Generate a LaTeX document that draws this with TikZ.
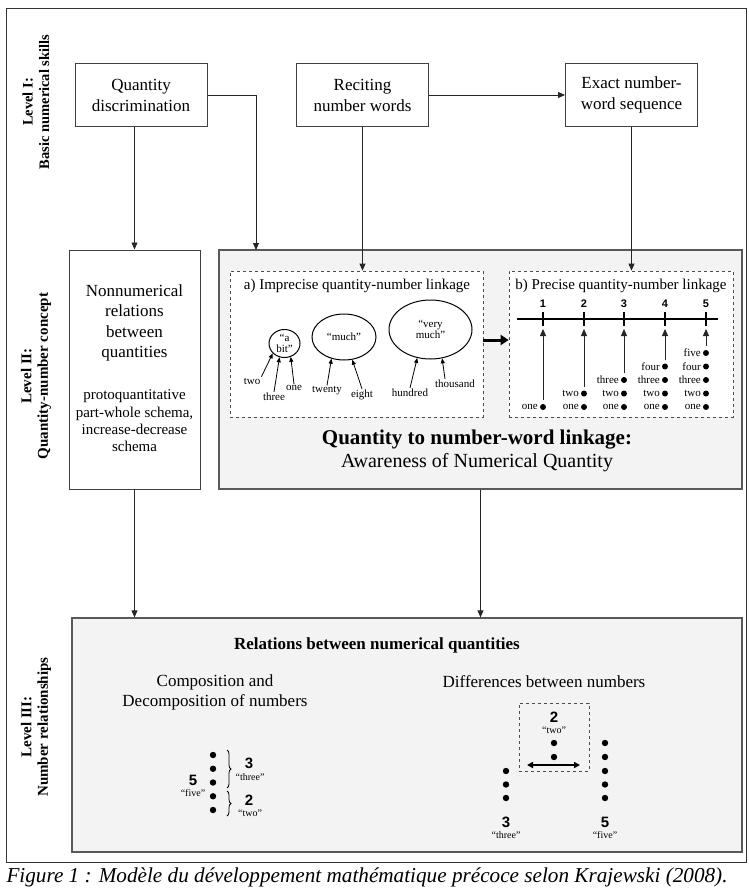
\documentclass[tikz,border=0pt]{standalone}
\usepackage{fontspec}
\setmainfont{Liberation Serif}
\newfontfamily\digitfont{Liberation Sans}
\usepackage{tikz}
\usetikzlibrary{arrows.meta,shapes.geometric,decorations.pathreplacing}
\definecolor{panelgray}{RGB}{243,243,243}

\tikzset{
    skillbox/.style={draw=black!75, line width=1pt, fill=white, align=center,
        minimum width=132pt, minimum height=63pt, font=\fontsize{17}{21}\selectfont},
    panel/.style={draw=black!65, line width=1.2pt, fill=panelgray},
    dashbox/.style={draw=black!70, dashed, line width=0.8pt, fill=white},
    levellabel/.style={rotate=90, align=center, font=\bfseries\fontsize{15}{16.5}\selectfont},
    conn/.style={->, black!85, line width=0.8pt},
    wordarr/.style={-{Stealth[length=5pt,width=4pt,inset=0pt]}, line width=0.8pt},
    blob/.style={ellipse, draw, line width=1pt, inner sep=0pt},
    tinylabel/.style={font=\fontsize{11}{11}\selectfont, inner sep=1pt},
    quoteword/.style={font=\fontsize{10}{10}\selectfont, inner sep=0pt},
    smallnum/.style={font=\digitfont\bfseries\fontsize{11}{11}\selectfont, inner sep=0pt},
    bignum/.style={font=\digitfont\bfseries\fontsize{15}{15}\selectfont, inner sep=0pt}
}

\begin{document}
\begin{tikzpicture}[
    >={Stealth[length=7pt,width=6pt,inset=0pt]},
    x=1pt, y=-1pt
]
\useasboundingbox (0,0) rectangle (748,888);

% Outer frame
\draw[black!80, line width=0.8pt] (6,8) rectangle (746,862);

% Level labels
\node[levellabel, font=\bfseries\fontsize{14.5}{16.5}\selectfont] (lvone) at (36,102)
    {Level I:\\Basic numerical skills};
\node[levellabel] (lvtwo) at (36,376) {Level II:\\Quantity-number concept};
\node[levellabel] (lvthree) at (36,727) {Level III:\\Number relationships};

% Level I
\node[skillbox] (qd) at (141,95) {Quantity\\discrimination};
\node[skillbox] (rnw) at (362.5,95) {Reciting\\number words};
\node[skillbox] (ens) at (631.5,95) {Exact number-\\word sequence};

% Level II
\node[draw=black!75, line width=1pt, fill=white,
    minimum width=131pt, minimum height=239pt] (nn) at (134.5,369.5) {};
\node[align=center, font=\fontsize{17}{20.3}\selectfont] (nntitle) at (134.5,323)
    {Nonnumerical\\relations\\between\\quantities};
\node[align=center, font=\fontsize{15}{17.3}\selectfont] (nnsub) at (134.5,421)
    {protoquantitative\\part-whole schema,\\increase-decrease\\schema};

\node[panel, minimum width=523pt, minimum height=239pt] (qn) at (480.5,369.5) {};
\node[dashbox, minimum width=253pt, minimum height=146pt] (boxa) at (356.5,344) {};
\node[dashbox, minimum width=224pt, minimum height=146pt] (boxb) at (621,344) {};
\node[font=\fontsize{15}{16}\selectfont] (atitle) at (357,286)
    {a) Imprecise quantity-number linkage};
\node[font=\fontsize{15}{16}\selectfont] (btitle) at (621,286)
    {b) Precise quantity-number linkage};

% a) ellipses
\node[blob, minimum width=31pt, minimum height=28pt] (bit) at (284.5,343.5) {};
\node[blob, minimum width=64pt, minimum height=46pt] (much) at (344,337) {};
\node[blob, minimum width=83pt, minimum height=59pt] (vmuch) at (430.5,329.5) {};
\node[tinylabel, align=center] (bitt) at (bit) {“a\\bit”};
\node[tinylabel] (mucht) at (much) {“much”};
\node[tinylabel, align=center] (vmucht) at (vmuch) {“very\\much”};

\node[tinylabel] (wtwo) at (252,381) {two};
\node[tinylabel] (wthree) at (274,397) {three};
\node[tinylabel] (wone) at (294,388) {one};
\node[tinylabel] (wtwenty) at (327,391) {twenty};
\node[tinylabel] (weight) at (362,395) {eight};
\node[tinylabel] (whund) at (410,393) {hundred};
\node[tinylabel] (wthou) at (455,384) {thousand};

\draw[wordarr] (wtwo.north east) -- (bit.220);
\draw[wordarr] (wthree.north) -- (bit.250);
\draw[wordarr] (wone.north) -- (bit.295);
\draw[wordarr] (wtwenty.north) -- (much.240);
\draw[wordarr] (weight.north) -- (much.290);
\draw[wordarr] (whund.north) -- (vmuch.245);
\draw[wordarr] ([xshift=-10pt]wthou.north) -- (vmuch.292);

% b) number line
\draw[line width=1.2pt] (517,319) -- (718,319);
\foreach \xx [count=\k] in {543,584,624,665,706} {
    \draw[line width=1.2pt] (\xx,312) -- (\xx,326);
    \node[smallnum] (num\k) at (\xx,304) {\k};
    \foreach \w [count=\j] in {one,two,three,four,five} {
        \ifnum\j>\k\relax\else
            \fill (\xx,{407-13.5*(\j-1)}) circle (3pt);
            \node[tinylabel, anchor=east] (w\k\j) at ({\xx-4},{407-13.5*(\j-1)}) {\w};
        \fi
    }
    \coordinate (top\k) at (\xx,{400-13.5*(\k-1)});
    \coordinate (tick\k) at (\xx,329);
    \draw[conn] (top\k) -- (tick\k);
}

\draw[line width=3pt, -{Stealth[length=8pt,width=10pt,inset=0pt]}]
    ([yshift=4pt]boxa.east) -- ([yshift=4pt]boxb.west);

\node[font=\bfseries\fontsize{21}{24}\selectfont] (qntitle) at (477,440)
    {Quantity to number-word linkage:};
\node[font=\fontsize{20}{22}\selectfont] (qnsub) at (477,463)
    {Awareness of Numerical Quantity};

% Level III
\node[panel, minimum width=670pt, minimum height=234pt] (rel) at (407,735) {};
\node[font=\bfseries\fontsize{17}{20}\selectfont] (reltitle) at (377,645)
    {Relations between numerical quantities};
\node[align=center, font=\fontsize{17}{20}\selectfont] (comp) at (215,692)
    {Composition and\\Decomposition of numbers};
\node[font=\fontsize{17}{20}\selectfont] (diff) at (544,682)
    {Differences between numbers};

% composition of five
\foreach \yy in {755,768.75,782.5,796.25,810} {
    \fill (213,\yy) circle (3.2pt);
}
\draw[line width=0.8pt, decorate, decoration={brace, amplitude=4pt}] (227,750) -- (227,788);
\draw[line width=0.8pt, decorate, decoration={brace, amplitude=4pt}] (227,791) -- (227,816);
\node[bignum] (cthree) at (249,763) {3};
\node[quoteword] (cthreew) at (250,777) {“three”};
\node[bignum] (ctwo) at (249,800) {2};
\node[quoteword] (ctwow) at (250,813) {“two”};
\node[bignum] (cfive) at (193,780) {5};
\node[quoteword] (cfivew) at (193,793) {“five”};

% differences
\node[dashbox, fill=none, minimum width=70pt, minimum height=68pt] (twobox) at (554,737) {};
\node[bignum] (dtwo) at (554,717) {2};
\node[quoteword] (dtwow) at (554,730) {“two”};
\fill (554,743) circle (3.2pt);
\fill (554,757) circle (3.2pt);
\coordinate (dl) at (527,765);
\coordinate (dr) at (580,765);
\draw[line width=2pt, {Stealth[length=6pt,width=6pt,inset=0pt]}-{Stealth[length=6pt,width=6pt,inset=0pt]}] (dl) -- (dr);
\foreach \yy in {771,784.5,798} {
    \fill (506,\yy) circle (3.2pt);
}
\foreach \yy in {743,757,771,784.5,798} {
    \fill (605,\yy) circle (3.2pt);
}
\node[bignum] (dthree) at (506,822) {3};
\node[quoteword] (dthreew) at (506,835) {“three”};
\node[bignum] (dfive) at (605,822) {5};
\node[quoteword] (dfivew) at (605,835) {“five”};

% connectors
\coordinate (qnin) at (256,250);
\draw[conn] (qd.south -| nn.north) -- (nn.north);
\draw[conn] (qd.east) -| (qnin);
\draw[conn] (rnw.east) -- (ens.west);
\draw[conn] (rnw.south) -- (rnw.south |- boxa.north);
\draw[conn] (ens.south) -- (ens.south |- boxb.north);
\draw[conn] (nn.south) -- (nn.south |- rel.north);
\draw[conn] (qn.south) -- (qn.south |- rel.north);

% caption
\node[font=\itshape\fontsize{21.2}{23}\selectfont, anchor=west] (cap) at (3,877)
    {Figure 1 : Modèle du développement mathématique précoce selon Krajewski (2008).};

\end{tikzpicture}
\end{document}
